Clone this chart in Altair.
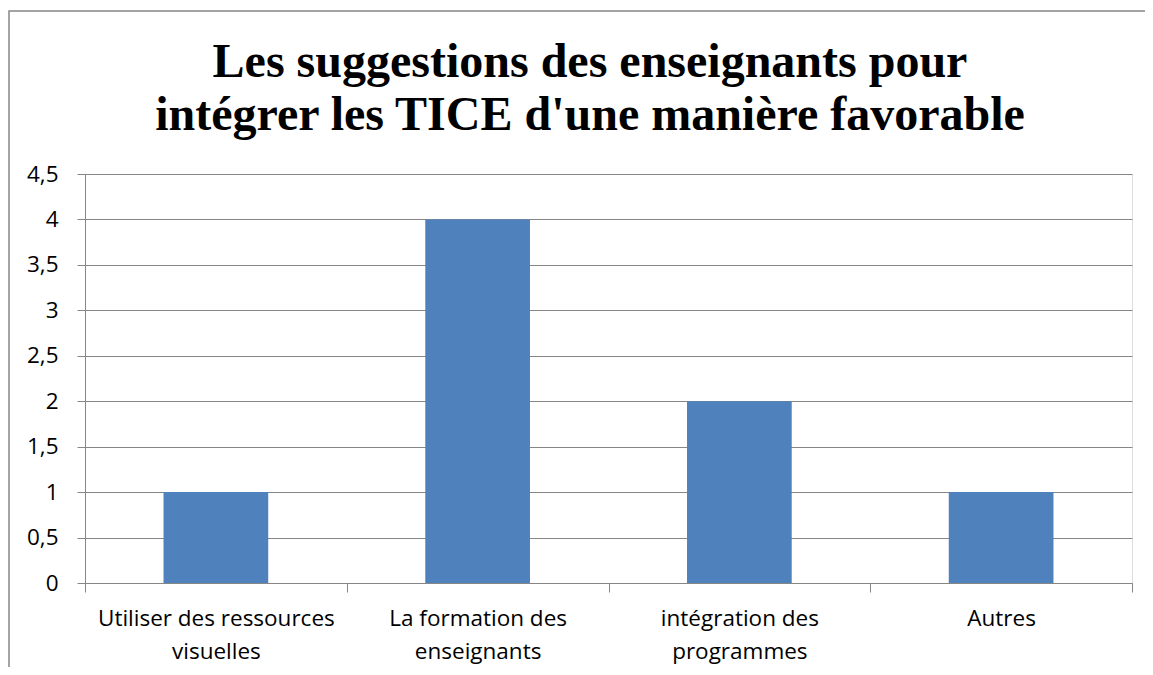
import altair as alt
import pandas as pd

label_lines = [
    "Utiliser des ressources|visuelles",
    "La formation des|enseignants",
    "intégration des|programmes",
    "Autres",
]
values = [1, 4, 2, 1]
title_lines = [
    "Les suggestions des enseignants pour",
    "intégrer les TICE d'une manière favorable",
]

df = pd.DataFrame({"cat": label_lines, "val": values})

GRAY = "#868686"
FONT = "Open Sans"
FS = 22.5

bars = alt.Chart(df).mark_bar(
    color="#4F81BD", width=alt.RelativeBandSize(0.4)
).encode(
    x=alt.X(
        "cat:N",
        sort=label_lines,
        scale=alt.Scale(paddingInner=0, paddingOuter=0),
        axis=alt.Axis(
            title=None,
            labelAngle=0,
            labelExpr="split(datum.label, '|')",
            labelFont=FONT,
            labelFontSize=FS,
            labelColor="#000000",
            labelLineHeight=33,
            labelPadding=15,
            labelBaseline="top",
            labelLimit=400,
            tickBand="extent",
            tickSize=9,
            tickColor=GRAY,
            domainColor=GRAY,
            grid=False,
        ),
    ),
    y=alt.Y(
        "val:Q",
        scale=alt.Scale(domain=[0, 4.5], nice=False),
        axis=alt.Axis(
            title=None,
            values=[0, 0.5, 1, 1.5, 2, 2.5, 3, 3.5, 4, 4.5],
            format=".1~f",
            labelExpr="replace(datum.label, '.', ',')",
            labelFont=FONT,
            labelFontSize=FS,
            labelColor="#000000",
            labelPadding=19,
            tickSize=8,
            tickColor=GRAY,
            domainColor=GRAY,
            gridColor=GRAY,
            gridWidth=1,
        ),
    ),
)

title = alt.Chart(pd.DataFrame({"a": [0]})).mark_text(
    font="Liberation Serif",
    fontSize=48,
    fontWeight="bold",
    color="#000000",
    lineHeight=53,
    align="center",
    baseline="alphabetic",
).encode(
    x=alt.value(505), y=alt.value(-97), text=alt.value(title_lines)
)

frame = alt.Chart(pd.DataFrame({"a": [0]})).mark_rect(
    fill=None, stroke=GRAY, strokeWidth=1.5, clip=False
).encode(
    x=alt.value(-76), x2=alt.value(1100), y=alt.value(-163), y2=alt.value(600)
)

chart = alt.layer(bars, frame, title).properties(
    width=1047,
    height=409,
    padding={"left": 77, "top": 166, "right": 13, "bottom": 84},
    autosize=alt.AutoSizeParams(type="none"),
).configure_view(stroke=None).configure(background="white")

chart.save("out.html", embed_options={"renderer": "svg", "actions": False})
